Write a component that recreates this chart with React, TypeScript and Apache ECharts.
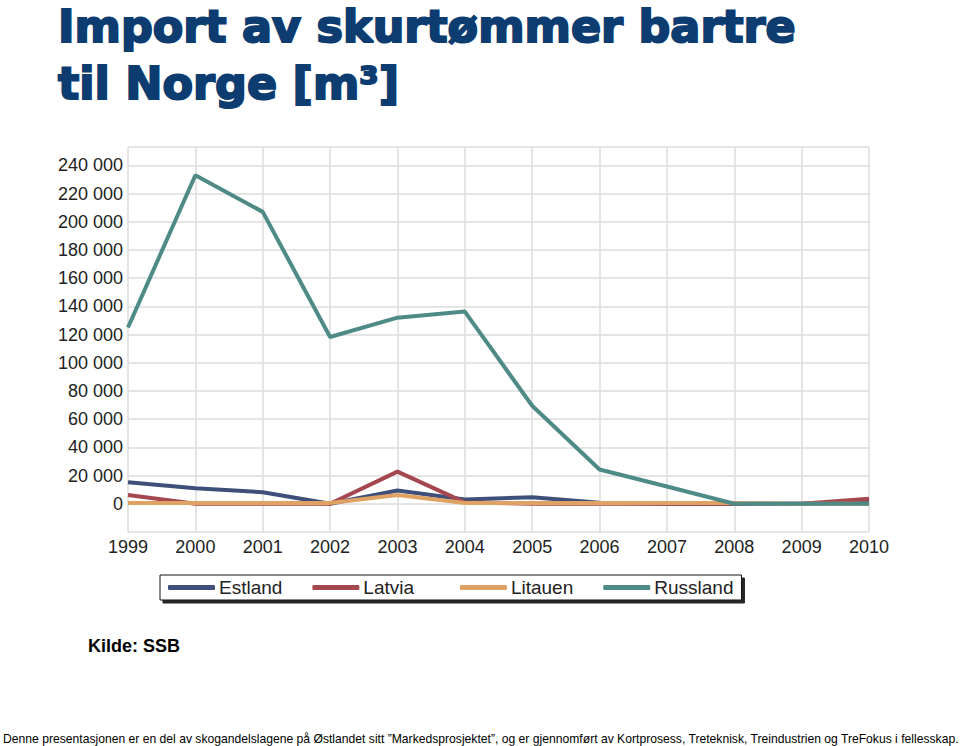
import React, { useEffect, useRef } from "react";
import * as echarts from "echarts";

const years = ["1999", "2000", "2001", "2002", "2003", "2004", "2005", "2006", "2007", "2008", "2009", "2010"];
const estland = [15300, 11000, 8200, 0, 9400, 3000, 4700, 800, 0, 0, 0, 1500];
const latvia = [6200, 0, 0, 0, 22800, 1000, 0, 0, 0, 0, 0, 3500];
const litauen = [500, 500, 500, 500, 6300, 500, 500, 500, 500, 500, 0, 0];
const russland = [125000, 233000, 207000, 118300, 132000, 136300, 69500, 24300, 12300, 0, 0, 0];

const seriesNames = ["Estland", "Latvia", "Litauen", "Russland"];
const seriesColors = ["#3e4f7a", "#a5474e", "#dfa262", "#4e8b87"];
const seriesData = [estland, latvia, litauen, russland];

const titleText = "Import av skurtømmer bartre\ntil Norge [m³]";
const sourceText = "Kilde: SSB";
const footerText =
  "Denne presentasjonen er en del av skogandelslagene på Østlandet sitt \u201dMarkedsprosjektet\u201d, og er gjennomført av Kortprosess, Treteknisk, Treindustrien og TreFokus i fellesskap.";

const fmt = (v: number) => String(v).replace(/\B(?=(\d{3})+(?!\d))/g, " ");

export default function App() {
  const ref = useRef<HTMLDivElement>(null);
  useEffect(() => {
    if (!ref.current) return;
    const chart = echarts.init(ref.current, undefined, { renderer: "svg" });
    chart.setOption({
      animation: false,
      backgroundColor: "#ffffff",
      grid: { left: 128, right: 91, top: 147, bottom: 214, containLabel: false },
      xAxis: {
        type: "category",
        data: years,
        boundaryGap: false,
        axisLine: { show: false },
        axisTick: { show: false },
        axisLabel: {
          color: "#222",
          fontSize: 18,
          fontFamily: "Liberation Sans, Arial, sans-serif",
          margin: 6,
        },
        splitLine: { show: true, lineStyle: { color: "#dcdcdc", width: 1.5 } },
      },
      yAxis: {
        type: "value",
        min: -20000,
        max: 253000,
        interval: 20000,
        axisLine: { show: false },
        axisTick: { show: false },
        axisLabel: {
          color: "#222",
          fontSize: 18,
          fontFamily: "Liberation Sans, Arial, sans-serif",
          margin: 5,
          formatter: (v: number) => (v >= 0 && v <= 240000 && v % 20000 === 0 ? fmt(v) : ""),
        },
        splitLine: { show: true, lineStyle: { color: "#dcdcdc", width: 1.5 } },
      },
      legend: {
        left: 160,
        top: 575,
        data: seriesNames,
        icon: "roundRect",
        itemWidth: 47,
        itemHeight: 5,
        itemGap: 30,
        padding: [3, 8, 3, 8],
        backgroundColor: "#ffffff",
        borderColor: "#111",
        borderWidth: 1,
        borderRadius: 0,
        shadowColor: "rgba(0,0,0,0.85)",
        shadowBlur: 0,
        shadowOffsetX: 3,
        shadowOffsetY: 3,
        formatter: (name: string) => (name === "Latvia" ? name + "\u00a0\u00a0\u00a0" : name),
        textStyle: {
          color: "#222",
          fontSize: 19,
          fontFamily: "Liberation Sans, Arial, sans-serif",
          padding: [0, 0, 0, -1],
        },
      },
      series: seriesNames.map((name, i) => ({
        name,
        type: "line",
        data: seriesData[i],
        symbol: "none",
        color: seriesColors[i],
        lineStyle: { width: 4, color: seriesColors[i] },
        z: 2 + i,
      })),
      graphic: [
        {
          type: "text",
          left: 57,
          top: -2,
          style: {
            text: titleText,
            font: '900 44.5px "DejaVu Sans"',
            fill: "#0c3c70",
            stroke: "#0c3c70",
            lineWidth: 2,
            lineHeight: 57,
          },
        },
        {
          type: "text",
          x: 88,
          y: 646,
          style: {
            text: sourceText,
            font: 'bold 18px "Liberation Sans"',
            fill: "#000",
            verticalAlign: "middle",
          },
        },
        {
          type: "text",
          x: 3,
          y: 739,
          style: {
            text: footerText,
            font: '12.15px "Liberation Sans"',
            fill: "#000",
            verticalAlign: "middle",
          },
        },
      ],
    });
    return () => chart.dispose();
  }, []);
  return (
    <div
      ref={ref}
      style={{ position: "fixed", left: 0, top: 0, width: 960, height: 746, background: "#fff" }}
    />
  );
}
